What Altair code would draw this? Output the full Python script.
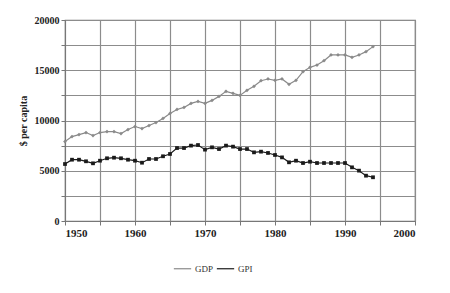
import altair as alt
import pandas as pd

years = list(range(1950, 1995))
gdp = [7900, 8400, 8600, 8800, 8500, 8800, 8900, 8900, 8700, 9100,
       9400, 9200, 9500, 9800, 10200, 10700, 11100, 11300, 11700, 11900,
       11700, 12000, 12400, 12900, 12700, 12500, 13000, 13400, 13960, 14130,
       14000, 14130, 13600, 14000, 14860, 15290, 15520, 15950, 16520, 16520,
       16520, 16290, 16520, 16850, 17350]
gpi = [5670, 6100, 6100, 5940, 5740, 6000, 6240, 6300, 6240, 6100,
       6000, 5800, 6170, 6170, 6440, 6670, 7260, 7260, 7500, 7560,
       7100, 7330, 7160, 7500, 7400, 7160, 7160, 6830, 6900, 6770,
       6570, 6330, 5840, 6000, 5770, 5900, 5770, 5770, 5770, 5770,
       5770, 5340, 5010, 4510, 4350]
series = ["GDP", "GPI"]
colors = ["#8a8a8a", "#1a1a1a"]
shapes = ["diamond", "square"]

df = pd.DataFrame({
    "year": years * 2,
    "value": gdp + gpi,
    "series": ["GDP"] * len(years) + ["GPI"] * len(years),
})

font = "Liberation Serif"
x = alt.X("year:Q", scale=alt.Scale(domain=[1950, 2000], nice=False),
          axis=alt.Axis(title=None, values=list(range(1950, 2001, 5)),
                        labelExpr="datum.value % 10 == 0 ? datum.value : ''",
                        format="d", labelFont=font, labelFontWeight="bold",
                        labelFontSize=11, labelColor="#222", gridColor="#8c8c8c",
                        gridWidth=1.2, domainColor="#777", tickColor="#777",
                        tickSize=4, labelPadding=2))
y = alt.Y("value:Q", scale=alt.Scale(domain=[0, 20000], nice=False),
          axis=alt.Axis(title="$ per capita", values=list(range(0, 20001, 2500)),
                        labelExpr="datum.value % 5000 == 0 ? datum.value : ''",
                        labelFont=font, labelFontWeight="bold", labelFontSize=10,
                        labelColor="#222", titleFont=font, titleFontWeight="bold",
                        titleFontSize=10, titleColor="#222", titlePadding=6,
                        gridColor="#8c8c8c", gridWidth=1.2, domainColor="#777",
                        tickColor="#777", tickSize=4))

color = alt.Color("series:N", scale=alt.Scale(domain=series, range=colors),
                  legend=alt.Legend(title=None, orient="none", direction="horizontal",
                                    legendX=108, legendY=239, labelFont=font,
                                    labelFontSize=9, labelColor="#333",
                                    symbolType="stroke", symbolSize=300,
                                    symbolStrokeWidth=1.2, columnPadding=0,
                                    labelOffset=3))

lines = alt.Chart(df).mark_line(strokeWidth=1.2).encode(x=x, y=y, color=color)
layers = [lines]
for s, c, sh in zip(series, colors, shapes):
    layers.append(
        alt.Chart(df).transform_filter(alt.datum.series == s)
        .mark_point(filled=True, size=14, opacity=1, shape=sh, color=c)
        .encode(x=x, y=y)
    )

chart = alt.layer(*layers).properties(
    width=350, height=201,
    autosize=alt.AutoSizeParams(type="none"),
    padding={"left": 65, "top": 20, "right": 35, "bottom": 72},
    background="white",
).configure_view(stroke="#777", strokeWidth=1.2)

chart.save("out.html", embed_options={"renderer": "svg", "actions": False})
